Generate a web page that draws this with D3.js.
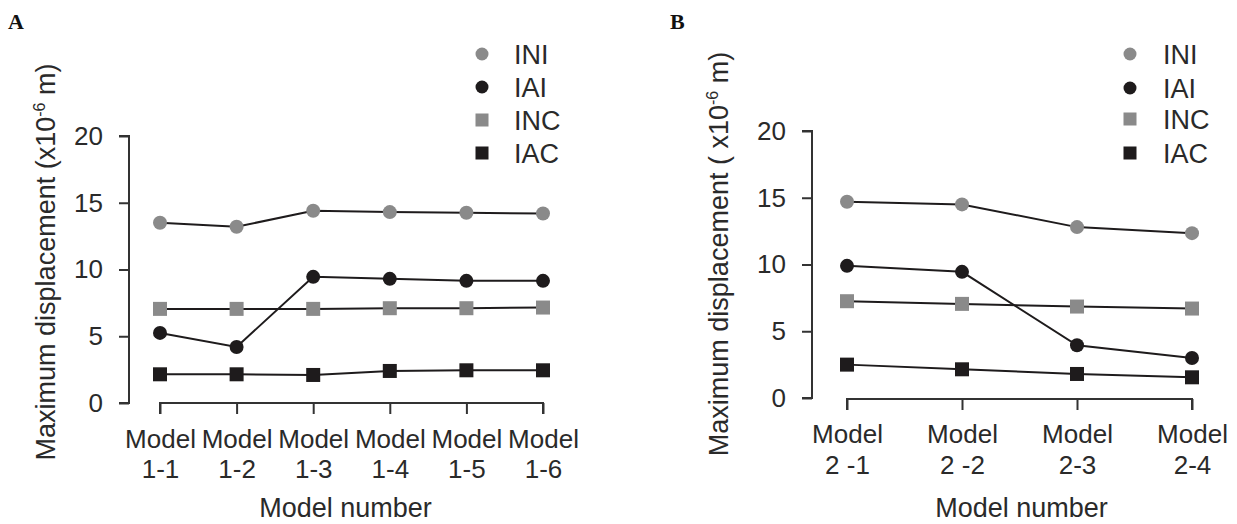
<!DOCTYPE html>
<html><head><meta charset="utf-8">
<script src="https://cdn.jsdelivr.net/npm/d3@7"></script>
<style>
body{margin:0;background:#fff;}
svg{display:block;font-family:"Liberation Sans",Arial,sans-serif;}
</style></head>
<body>
<svg id="chart" width="1237" height="524"></svg>
<script>
// ---- data ----
const seriesNames = ["INI", "IAI", "INC", "IAC"];
const modelsA = ["1-1", "1-2", "1-3", "1-4", "1-5", "1-6"];
const modelsB = ["2 -1", "2 -2", "2-3", "2-4"];
const yTicks = [0, 5, 10, 15, 20];
const iniA = [13.5, 13.2, 14.4, 14.3, 14.25, 14.2];
const iaiA = [5.25, 4.2, 9.45, 9.3, 9.15, 9.15];
const incA = [7.05, 7.05, 7.05, 7.1, 7.1, 7.15];
const iacA = [2.15, 2.15, 2.1, 2.4, 2.45, 2.45];
const iniB = [14.7, 14.5, 12.8, 12.35];
const iaiB = [9.9, 9.45, 3.95, 3.0];
const incB = [7.25, 7.05, 6.85, 6.7];
const iacB = [2.5, 2.15, 1.8, 1.55];

const styles = {
  INI: {shape: "circle", color: "#8a8a8a"},
  IAI: {shape: "circle", color: "#1e1b1c"},
  INC: {shape: "square", color: "#8a8a8a"},
  IAC: {shape: "square", color: "#1e1b1c"}
};

const svg = d3.select("#chart");
const TICKFONT = 26, TITLEFONT = 27, LEGFONT = 27;
const TXT = "#2a2a2a";

function drawPanel(cfg) {
  const g = svg.append("g");
  const y = d3.scaleLinear().domain([0, 20]).range([cfg.y0, cfg.y1]);
  const x = d3.scalePoint().domain(cfg.models).range([cfg.x0, cfg.x1]);

  // y axis
  const ya = g.append("g").attr("transform", `translate(${cfg.yAxisX},0)`)
    .call(d3.axisLeft(y).tickValues(yTicks).tickSize(10).tickPadding(16));
  ya.select(".domain").attr("d", `M-10,${y(20)}H0V${y(0)}H-10`);
  ya.selectAll("path,line").attr("stroke", "#333").attr("stroke-width", 2);
  ya.selectAll("text").attr("font-size", TICKFONT).attr("fill", TXT)
    .attr("font-family", "Liberation Sans, Arial, sans-serif");

  // x axis
  const xa = g.append("g").attr("transform", `translate(0,${cfg.xAxisY})`)
    .call(d3.axisBottom(x).tickSize(11).tickFormat(""));
  xa.select(".domain").attr("d", `M${cfg.x0},11V0H${cfg.x1}V11`);
  xa.selectAll("path,line").attr("stroke", "#333").attr("stroke-width", 2);
  xa.selectAll(".tick").each(function(d) {
    const t = d3.select(this).append("text").attr("fill", TXT)
      .attr("font-size", TICKFONT).attr("text-anchor", "middle")
      .attr("font-family", "Liberation Sans, Arial, sans-serif");
    t.append("tspan").attr("x", 0).attr("y", cfg.lab1 - cfg.xAxisY).text("Model");
    t.append("tspan").attr("x", 0).attr("y", cfg.lab2 - cfg.xAxisY).text(d);
  });

  // axis titles
  g.append("text").attr("x", (cfg.x0 + cfg.x1) / 2 + cfg.xtOff).attr("y", cfg.xtY)
    .attr("text-anchor", "middle").attr("font-size", TITLEFONT).attr("fill", TXT)
    .text("Model number");
  const yt = g.append("text")
    .attr("transform", `translate(${cfg.ytX},${cfg.ytY}) rotate(-90)`)
    .attr("text-anchor", "middle").attr("font-size", TITLEFONT).attr("fill", TXT);
  yt.append("tspan").text(cfg.ytPre);
  yt.append("tspan").attr("font-size", 16).attr("dy", -10).text("-6");
  yt.append("tspan").attr("dy", 10).text(cfg.ytPost);

  // lines and markers
  const line = d3.line().x((d, i) => x(cfg.models[i])).y(d => y(d));
  seriesNames.forEach(name => {
    g.append("path").attr("d", line(cfg.data[name])).attr("fill", "none")
      .attr("stroke", "#1e1b1c").attr("stroke-width", 2);
  });
  seriesNames.forEach(name => {
    const st = styles[name];
    cfg.data[name].forEach((v, i) => {
      const cx = x(cfg.models[i]), cy = y(v);
      if (st.shape === "circle") {
        g.append("circle").attr("cx", cx).attr("cy", cy).attr("r", 7).attr("fill", st.color);
      } else {
        g.append("rect").attr("x", cx - 7).attr("y", cy - 7).attr("width", 14).attr("height", 14).attr("fill", st.color);
      }
    });
  });

  // legend
  seriesNames.forEach((name, i) => {
    const ly = cfg.legY[i];
    const st = styles[name];
    if (st.shape === "circle") {
      g.append("circle").attr("cx", cfg.legX).attr("cy", ly).attr("r", 6.5).attr("fill", st.color);
    } else {
      g.append("rect").attr("x", cfg.legX - 6.5).attr("y", ly - 6.5).attr("width", 13).attr("height", 13).attr("fill", st.color);
    }
    g.append("text").attr("x", cfg.legTextX).attr("y", ly + 10).attr("font-size", LEGFONT)
      .attr("fill", TXT).text(name);
  });

  // panel letter
  svg.append("text").attr("x", cfg.letterX).attr("y", 29)
    .attr("font-family", "Liberation Serif, Times New Roman, serif")
    .attr("font-weight", "bold").attr("font-size", 22).attr("fill", "#111").text(cfg.letter);
}

drawPanel({
  letter: "A", letterX: 8,
  models: modelsA,
  data: {INI: iniA, IAI: iaiA, INC: incA, IAC: iacA},
  y0: 403, y1: 136, x0: 160, x1: 543,
  yAxisX: 129, xAxisY: 403,
  lab1: 448, lab2: 478,
  xtY: 517, xtOff: -6,
  ytX: 55, ytY: 262, ytPre: "Maximum displacement (x10", ytPost: " m)",
  legX: 482, legTextX: 514, legY: [54, 87, 120, 153]
});

drawPanel({
  letter: "B", letterX: 670,
  models: modelsB,
  data: {INI: iniB, IAI: iaiB, INC: incB, IAC: iacB},
  y0: 398, y1: 131, x0: 847, x1: 1192,
  yAxisX: 812, xAxisY: 399,
  lab1: 443, lab2: 474,
  xtY: 517, xtOff: 2,
  ytX: 728, ytY: 254, ytPre: "Maximum displacement ( x10", ytPost: "  m)",
  legX: 1130, legTextX: 1163, legY: [54, 88, 119, 153]
});
</script>
</body></html>
